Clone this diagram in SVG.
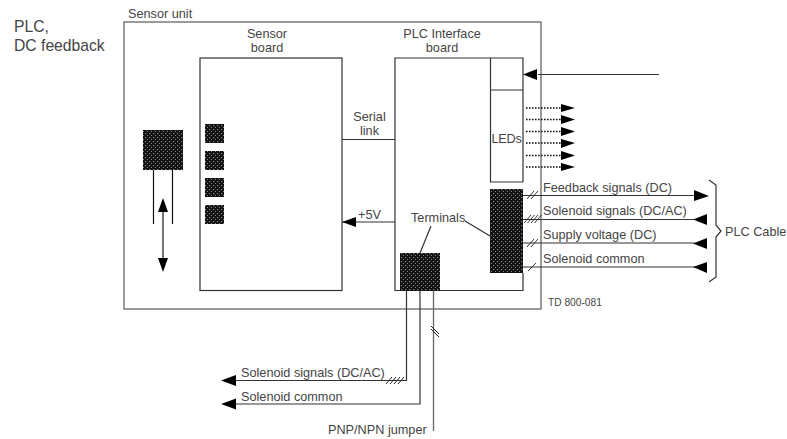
<svg xmlns="http://www.w3.org/2000/svg" width="787" height="439" viewBox="0 0 787 439">
<style>
text{font-family:"Liberation Sans",Arial,sans-serif;font-size:12.700px;fill:#444}
.l{fill:none;stroke:#333;stroke-width:1.2}
.g{fill:none;stroke:#666;stroke-width:1.3}
.t{fill:none;stroke:#222;stroke-width:.9}
.d{fill:none;stroke:#111;stroke-width:1.4;stroke-dasharray:1.600 1.400}
.b{fill:url(#dots)}
</style>
<defs>
<pattern id="dots" width="4" height="4" patternUnits="userSpaceOnUse"><rect width="4" height="4" fill="#111"/><rect x="1" y="1" width="1.200" height="1.200" fill="#888"/><rect x="3" y="3" width="1.200" height="1.200" fill="#888"/></pattern>
</defs>
<text x="14" y="32" style="font-size:15.700px">PLC,</text>
<text x="14" y="51" style="font-size:15.700px">DC feedback</text>
<g id="sensor-unit"><rect class="g" x="124" y="22" width="417" height="287"/><text x="128" y="18">Sensor unit</text></g>
<g id="sensor-board"><rect class="l" x="200" y="58" width="142" height="232.500"/><text x="267" y="38" text-anchor="middle">Sensor</text><text x="267" y="52" text-anchor="middle">board</text>
<rect class="b" x="205" y="124" width="19" height="19"/><rect class="b" x="205" y="151" width="19" height="19"/><rect class="b" x="205" y="178" width="19" height="19"/><rect class="b" x="205" y="205" width="19" height="19"/></g>
<g id="sensor"><rect class="b" x="143" y="130" width="40" height="40"/><path class="l" d="M153.500 170V224M172.500 170V224" style="stroke:#111"/></g>
<g id="interface-board"><path class="l" d="M523 182V58H395V290.500H523V273"/><path class="l" d="M490.500 58V182H523M490.500 90H523"/><text x="442" y="38" text-anchor="middle">PLC Interface</text><text x="442" y="52" text-anchor="middle">board</text><text x="491.500" y="143" style="letter-spacing:-.2px">LEDs</text></g>
<g id="terminal-block"><rect class="b" x="490" y="189" width="33" height="84"/></g>
<g id="terminals"><rect class="b" x="400" y="253" width="40" height="38"/><text x="411" y="222">Terminals</text></g>
<g id="connectors">
<path class="g" d="M163 208V262" style="stroke-width:1.800"/>
<path d="M163 198L158 212H168ZM163 272L158 258H168Z" fill="#000"/>
<path class="l" d="M342 139.500H395M395 222H342"/>
<path d="M342 222L356 217V227Z" fill="#000"/>
<path class="l" d="M659 74.500H538"/><path d="M523 74.500L537 69V80Z" fill="#000"/>
<g id="led-arrows">
<path class="d" d="M526 108H561M526 119.500H561M526 131.500H561M526 143H561M526 155.500H561M526 167H561"/>
<path fill="#000" d="M561 104L575 108L561 112ZM561 115L575 119.500L561 124ZM561 127L575 131.500L561 136ZM561 139L575 143L561 148ZM561 151L575 155.500L561 160ZM561 163L575 167L561 171Z"/>
</g>
<path class="l" d="M523 195.500H694M523 219.500H695M523 243H695M523 267H695"/>
<path fill="#000" d="M694 190L709 196L694 201ZM707 214V225L693 219.500ZM707 238V249L693 243.500ZM707 262V273L693 267Z"/>
<path class="t" d="M527 199L534 191M531 199L538 191M524 223L531 215M527.500 223L534.500 215M531 223L538 215M534.500 223L541.500 215M527 247L534 239M531 247L538 239M528 271L536 263"/>
<path class="l" d="M709 180L716 185V225L721 231L716 237V277L709 282"/>
<path class="l" d="M490 236L465 221"/>
<path class="l" d="M420 253L431 226"/>
<path class="l" d="M406.500 291V380.500H230M420 291V404H230"/>
<path class="g" d="M433.500 291V431"/>
<path fill="#000" d="M221 380.500L236 375V386ZM221 404L236 398.500V409.500Z"/>
<path class="t" d="M386 384L392 377M390 384L396 377M394 384L400 377M398 384L404 377M431 326L439 334M431 329L439 337" style="stroke-width:1"/>
</g>
<text x="543" y="192">Feedback signals (DC)</text>
<text x="543" y="215">Solenoid signals (DC/AC)</text>
<text x="543" y="239">Supply voltage (DC)</text>
<text x="543" y="263">Solenoid common</text>
<text x="725" y="236">PLC Cable</text>
<text x="369.500" y="121" text-anchor="middle">Serial</text>
<text x="369.500" y="135" text-anchor="middle">link</text>
<text x="358" y="219">+5V</text>
<text x="548" y="306" style="font-size:10.200px">TD 800-081</text>
<text x="241" y="377">Solenoid signals (DC/AC)</text>
<text x="241" y="401">Solenoid common</text>
<text x="328" y="434">PNP/NPN jumper</text>
</svg>
